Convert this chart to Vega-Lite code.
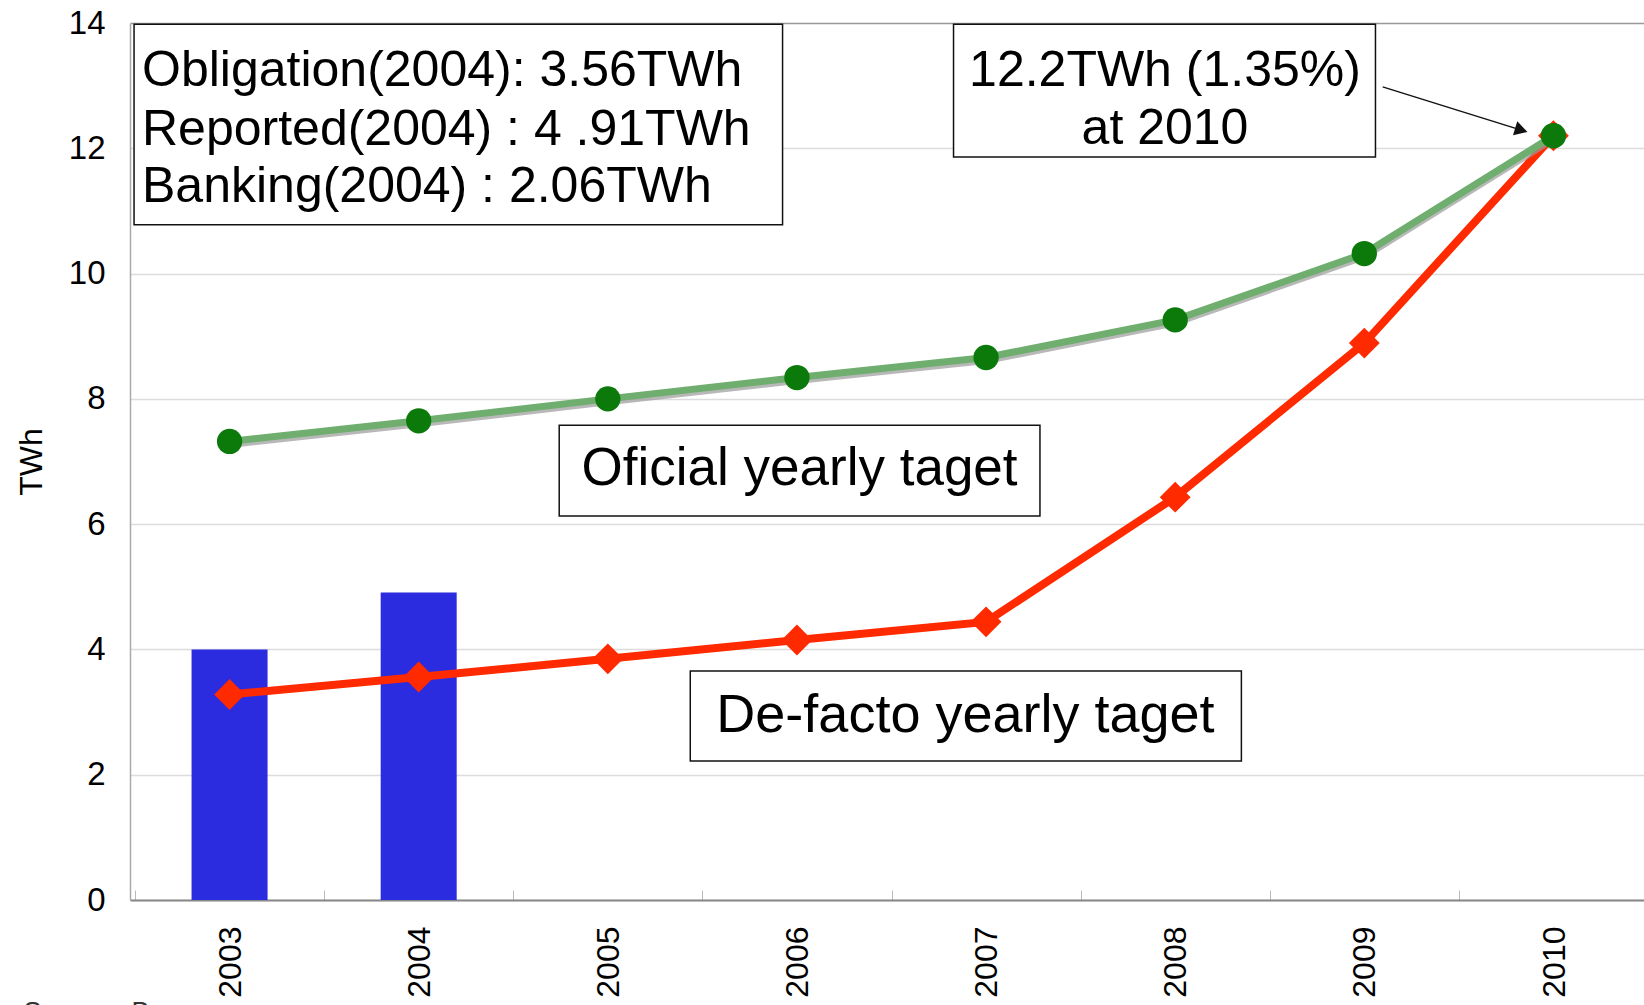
{
  "$schema": "https://vega.github.io/schema/vega-lite/v6.json",
  "autosize": {"type": "none"},
  "width": 1523,
  "height": 877,
  "padding": {"left": 130, "top": 23, "right": 0, "bottom": 105},
  "background": "white",
  "config": {"view": {"stroke": null}, "font": "Liberation Sans"},
  "datasets": {
    "targets": [
      {"year": 2003, "official": 7.32, "defacto": 3.28, "reported": 4.0},
      {"year": 2004, "official": 7.65, "defacto": 3.56, "reported": 4.91},
      {"year": 2005, "official": 8.0, "defacto": 3.85, "reported": null},
      {"year": 2006, "official": 8.34, "defacto": 4.15, "reported": null},
      {"year": 2007, "official": 8.66, "defacto": 4.44, "reported": null},
      {"year": 2008, "official": 9.26, "defacto": 6.43, "reported": null},
      {"year": 2009, "official": 10.32, "defacto": 8.89, "reported": null},
      {"year": 2010, "official": 12.2, "defacto": 12.2, "reported": null}
    ],
    "boxes": [
      {"box": "summary", "x1": 2002.495, "x2": 2005.924, "y1": 13.98, "y2": 10.78},
      {"box": "target2010", "x1": 2006.828, "x2": 2009.059, "y1": 13.98, "y2": 11.86},
      {"box": "official", "x1": 2004.743, "x2": 2007.285, "y1": 7.58, "y2": 6.13},
      {"box": "defacto", "x1": 2005.436, "x2": 2008.35, "y1": 3.656, "y2": 2.219}
    ],
    "leftText": [
      {"x": 2002.537, "y": 12.995, "text": "Obligation(2004): 3.56TWh"},
      {"x": 2002.537, "y": 12.053, "text": "Reported(2004) : 4 .91TWh"},
      {"x": 2002.537, "y": 11.143, "text": "Banking(2004)    : 2.06TWh"}
    ],
    "centerText": [
      {"x": 2007.946, "y": 12.995, "text": "12.2TWh (1.35%)", "size": 50},
      {"x": 2007.946, "y": 12.07, "text": "at 2010", "size": 50},
      {"x": 2006.014, "y": 6.625, "text": "Oficial yearly taget", "size": 53},
      {"x": 2006.891, "y": 2.68, "text": "De-facto yearly taget", "size": 54}
    ],
    "arrow": [
      {"x": 2009.097, "y": 12.98, "x2": 2009.83, "y2": 12.29}
    ],
    "source": [
      {"x": 2001.91, "y": -1.93, "text": "Source :   By"}
    ]
  },
  "layer": [
    {
      "data": {"name": "targets"},
      "mark": {"type": "bar", "width": 76, "color": "#2b2be0"},
      "encoding": {
        "x": {
          "field": "year",
          "type": "quantitative",
          "scale": {"domain": [2002.5, 2010.5], "nice": false, "zero": false},
          "axis": {
            "title": null,
            "values": [2002.5, 2003.5, 2004.5, 2005.5, 2006.5, 2007.5, 2008.5, 2009.5],
            "labelExpr": "format(datum.value + 0.5, 'd')",
            "labelOffset": 95.2,
            "labelAngle": -90,
            "labelFontSize": 32,
            "labelColor": "#000000",
            "labelPadding": 36,
            "tickSize": -10,
            "tickColor": "#bbbbbb",
            "grid": false,
            "domainColor": "#888888",
            "domainWidth": 2
          }
        },
        "y": {
          "field": "reported",
          "type": "quantitative",
          "scale": {"domain": [0, 14], "nice": false},
          "axis": {
            "title": "TWh",
            "titleFontSize": 32,
            "titleFontWeight": "normal",
            "titleColor": "#000000",
            "titlePadding": 20,
            "values": [0, 2, 4, 6, 8, 10, 12, 14],
            "format": "d",
            "labelFontSize": 33,
            "labelColor": "#000000",
            "labelPadding": 25,
            "ticks": false,
            "grid": true,
            "gridColor": {"condition": {"test": "datum.value === 14", "value": "#999999"}, "value": "#dcdcdc"},
            "gridWidth": 1.5,
            "domainColor": "#aaaaaa",
            "domainWidth": 1.5
          }
        }
      }
    },
    {
      "data": {"name": "targets"},
      "mark": {"type": "line", "color": "#ff2a00", "strokeWidth": 8},
      "encoding": {
        "x": {"field": "year", "type": "quantitative"},
        "y": {"field": "defacto", "type": "quantitative"}
      }
    },
    {
      "data": {"name": "targets"},
      "mark": {"type": "point", "shape": "diamond", "filled": true, "opacity": 1, "color": "#ff2a00", "size": 950},
      "encoding": {
        "x": {"field": "year", "type": "quantitative"},
        "y": {"field": "defacto", "type": "quantitative"}
      }
    },
    {
      "data": {"name": "targets"},
      "mark": {"type": "line", "color": "#9a9a9a", "strokeWidth": 7, "yOffset": 3, "opacity": 0.7},
      "encoding": {
        "x": {"field": "year", "type": "quantitative"},
        "y": {"field": "official", "type": "quantitative"}
      }
    },
    {
      "data": {"name": "targets"},
      "mark": {"type": "line", "color": "#6fae6f", "strokeWidth": 7},
      "encoding": {
        "x": {"field": "year", "type": "quantitative"},
        "y": {"field": "official", "type": "quantitative"}
      }
    },
    {
      "data": {"name": "targets"},
      "mark": {"type": "point", "shape": "circle", "filled": true, "opacity": 1, "color": "#0b7a0b", "size": 640},
      "encoding": {
        "x": {"field": "year", "type": "quantitative"},
        "y": {"field": "official", "type": "quantitative"}
      }
    },
    {
      "data": {"name": "boxes"},
      "mark": {"type": "rect", "fill": "#ffffff", "stroke": "#111111", "strokeWidth": 1.5},
      "encoding": {
        "x": {"field": "x1", "type": "quantitative"},
        "x2": {"field": "x2"},
        "y": {"field": "y1", "type": "quantitative"},
        "y2": {"field": "y2"}
      }
    },
    {
      "data": {"name": "leftText"},
      "mark": {"type": "text", "align": "left", "baseline": "alphabetic", "fontSize": 50, "color": "#000000"},
      "encoding": {
        "x": {"field": "x", "type": "quantitative"},
        "y": {"field": "y", "type": "quantitative"},
        "text": {"field": "text"}
      }
    },
    {
      "data": {"name": "centerText"},
      "mark": {"type": "text", "align": "center", "baseline": "alphabetic", "color": "#000000"},
      "encoding": {
        "x": {"field": "x", "type": "quantitative"},
        "y": {"field": "y", "type": "quantitative"},
        "text": {"field": "text"},
        "size": {"field": "size", "type": "quantitative", "scale": null}
      }
    },
    {
      "data": {"name": "arrow"},
      "mark": {"type": "rule", "color": "#111111", "strokeWidth": 1.5},
      "encoding": {
        "x": {"field": "x", "type": "quantitative"},
        "y": {"field": "y", "type": "quantitative"},
        "x2": {"field": "x2"},
        "y2": {"field": "y2"}
      }
    },
    {
      "data": {"name": "arrow"},
      "mark": {"type": "point", "shape": "triangle-right", "filled": true, "opacity": 1, "color": "#111111", "size": 220, "angle": 17},
      "encoding": {
        "x": {"field": "x2", "type": "quantitative"},
        "y": {"field": "y2", "type": "quantitative"}
      }
    },
    {
      "data": {"name": "source"},
      "mark": {"type": "text", "align": "left", "baseline": "alphabetic", "fontSize": 27, "color": "#333333"},
      "encoding": {
        "x": {"field": "x", "type": "quantitative"},
        "y": {"field": "y", "type": "quantitative"},
        "text": {"field": "text"}
      }
    }
  ]
}
